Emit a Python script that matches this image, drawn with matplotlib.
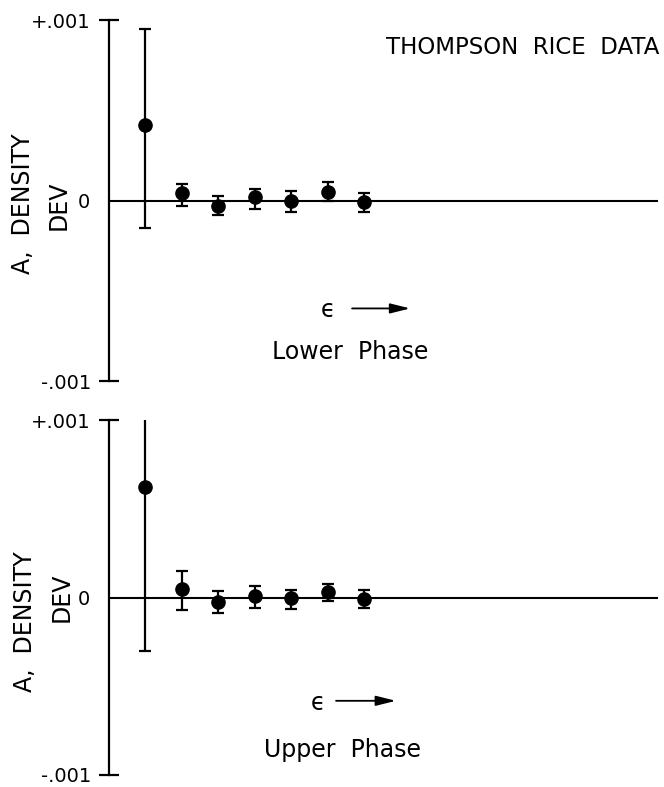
import matplotlib
matplotlib.use("Agg")
import matplotlib.pyplot as plt
import numpy as np

# ---- data ----
eps_index = [1, 2, 3, 4, 5, 6, 7]

lower_phase_val = [0.00042, 0.00004, -0.000028, 0.000017, 0.0, 0.000048, -0.000006]
lower_phase_hi = [0.00095, 0.000092, 0.000024, 0.000065, 0.000052, 0.000104, 0.000043]
lower_phase_lo = [-0.00015, -0.000031, -0.000079, -0.000046, -0.000061, -0.000004, -0.000063]

upper_phase_val = [0.00062, 0.00005, -0.000028, 0.000011, -0.000004, 0.000033, -0.000006]
upper_phase_hi = [0.00106, 0.00015, 0.000036, 0.000067, 0.000043, 0.000076, 0.000043]
upper_phase_lo = [-0.0003, -0.00007, -0.000087, -0.000061, -0.000063, -0.00002, -0.000061]

ytick_vals = [-0.001, 0.001]
ytick_labels = ["-.001", "+.001"]
zero_label = "0"
title_text = "THOMPSON  RICE  DATA"
ylabel_lines = ["A,  DENSITY", "DEV"]
panel_names = ["Lower  Phase", "Upper  Phase"]

plt.rcParams["font.family"] = ["DejaVu Sans"]

W, H = 664, 787
fig = plt.figure(figsize=(W / 100, H / 100), dpi=100)


def px_axes(left, right, top, bottom):
    return fig.add_axes([left / W, 1 - bottom / H, (right - left) / W, (bottom - top) / H])


def ftext(x, y, s, **kw):
    fig.text(x / W, 1 - y / H, s, **kw)


ax_top = px_axes(109, 658, 20, 381)
ax_bot = px_axes(109, 658, 420, 775)

xmax = (658 - 109) / 36.5

panels = [
    (ax_top, lower_phase_val, lower_phase_hi, lower_phase_lo, panel_names[0],
     (6.0, -0.000609), (6.66, 8.25, -0.000598), (6.60, -0.000837),
     ((23, 204), (59, 205))),
    (ax_bot, upper_phase_val, upper_phase_hi, upper_phase_lo, panel_names[1],
     (5.73, -0.000593), (6.22, 7.86, -0.000582), (6.40, -0.000861),
     ((25, 622), (62, 597))),
]

for ax, val, hi, lo, name, eps_pos, arrow, name_pos, lab_pos in panels:
    val = np.array(val)
    yerr = np.vstack([val - np.array(lo), np.array(hi) - val])
    ax.errorbar(eps_index, val, yerr=yerr, fmt="o", color="black", ms=9.5,
                elinewidth=1.6, capsize=4.5, capthick=1.6, zorder=3)
    ax.axhline(0, color="black", lw=1.5, zorder=2)
    ax.set_xlim(0, xmax)
    ax.set_ylim(-0.001, 0.001)
    for s in ["top", "right", "bottom"]:
        ax.spines[s].set_visible(False)
    ax.spines["left"].set_linewidth(1.6)
    ax.set_xticks([])
    ax.set_yticks(ytick_vals, labels=ytick_labels)
    ax.set_yticks([0], labels=[zero_label], minor=True)
    ax.tick_params(axis="y", which="major", direction="inout", length=15, width=1.6,
                   pad=5.5, labelsize=14)
    ax.tick_params(axis="y", which="minor", length=0, pad=13.5, labelsize=14)
    ax.text(eps_pos[0], eps_pos[1], "\u03f5", fontsize=17, ha="center", va="center")
    ax.annotate("", xy=(arrow[1], arrow[2]), xytext=(arrow[0], arrow[2]),
                arrowprops=dict(arrowstyle="-|>,head_length=1.2,head_width=0.3",
                                lw=1.3, color="black", shrinkA=0, shrinkB=0))
    ax.text(name_pos[0], name_pos[1], name, fontsize=17, ha="center", va="center")
    for (lx, ly), s in zip(lab_pos, ylabel_lines):
        ftext(lx, ly, s, fontsize=17, rotation=90, ha="center", va="center")

ftext(659, 47, title_text, fontsize=16.5, ha="right", va="center")

fig.savefig("out.png", dpi=100)
